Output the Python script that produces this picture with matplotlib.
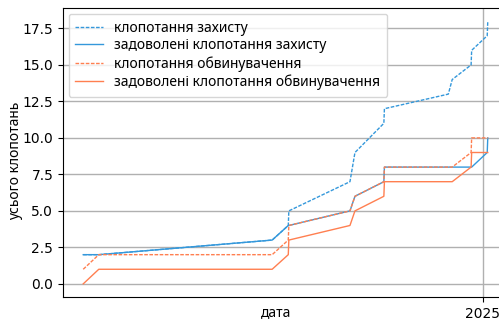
import matplotlib
matplotlib.use('Agg')
import matplotlib.pyplot as plt
import matplotlib.dates as mdates
import pandas as pd

# hearing dates (common index for all four cumulative series)
dates = pd.to_datetime([
    '2023-01-13', '2023-02-10', '2023-12-19', '2024-01-17', '2024-01-18',
    '2024-05-07', '2024-05-16', '2024-07-07', '2024-07-08', '2024-10-31',
    '2024-11-07', '2024-12-11', '2024-12-12', '2025-01-09', '2025-01-10',
])

# cumulative counts
defence_total = [2, 2, 3, 4, 5, 7, 9, 11, 12, 13, 14, 15, 16, 17, 18]
defence_granted = [2, 2, 3, 4, 4, 5, 6, 7, 8, 8, 8, 8, 8, 9, 10]
prosecution_total = [1, 2, 2, 3, 4, 5, 6, 7, 8, 8, 8, 9, 10, 10, 10]
prosecution_granted = [0, 1, 1, 2, 3, 4, 5, 6, 7, 7, 7, 8, 9, 9, 9]

year_ticks = pd.to_datetime(['2025-01-01'])

blue = '#3498db'
orange = '#ff7f50'
dash = (0, (2.6, 1.1))
text_font = ['Noto Sans', 'DejaVu Sans']

fig = plt.figure(figsize=(4.99, 3.23), dpi=100)
ax = fig.add_axes([63 / 499, 26 / 323, 445 / 499, 289 / 323])

ax.plot(dates, defence_total, color=blue, linestyle=dash, linewidth=1,
        label='клопотання захисту')
ax.plot(dates, defence_granted, color=blue, linewidth=1,
        label='задоволені клопотання захисту')
ax.plot(dates, prosecution_total, color=orange, linestyle=dash, linewidth=1,
        label='клопотання обвинувачення')
ax.plot(dates, prosecution_granted, color=orange, linewidth=1,
        label='задоволені клопотання обвинувачення')

ax.set_xticks(year_ticks)
ax.xaxis.set_major_formatter(mdates.DateFormatter('%Y'))
ax.set_xlabel('дата', family=text_font, fontsize=10)
ax.set_ylabel('усього клопотань', family=text_font, fontsize=10)
ax.xaxis.set_label_coords(0.479, -0.028)
ax.yaxis.set_label_coords(-0.09, 0.47)
ax.grid(True, color='#b0b0b0', linewidth=1)
ax.legend(loc='upper left', prop={'family': text_font, 'size': 10},
          labelspacing=0.2, borderpad=0.5, borderaxespad=0.4)

fig.savefig('out.png', dpi=100)
